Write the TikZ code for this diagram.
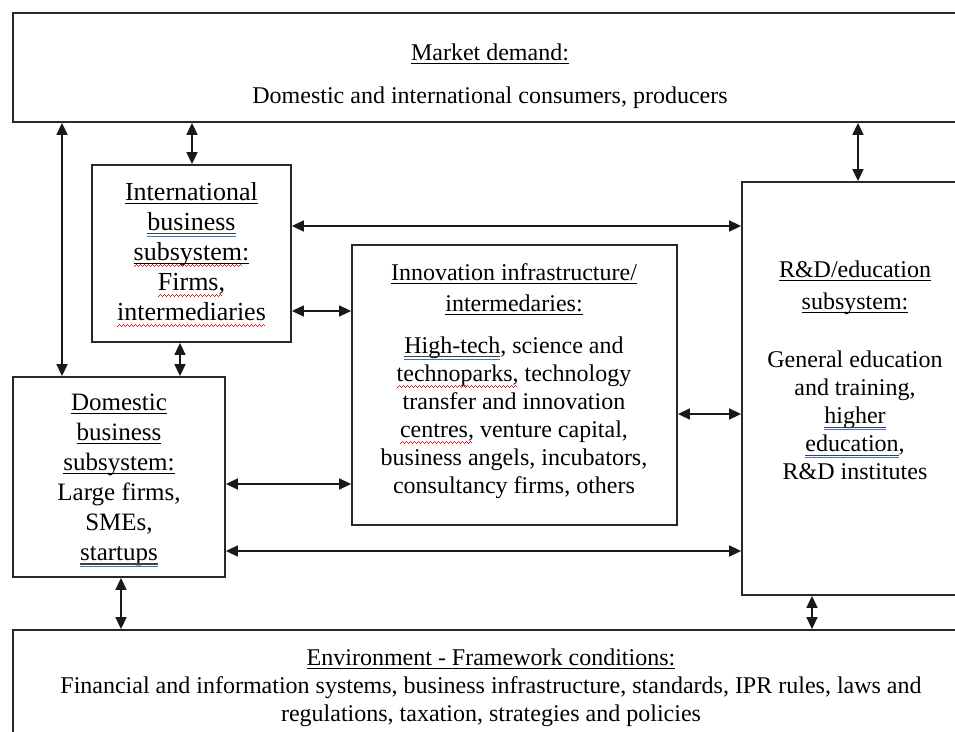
\documentclass[tikz,border=0pt]{standalone}
\usepackage{fontspec}
\setmainfont{Liberation Serif}
\usetikzlibrary{arrows.meta}
\definecolor{wordblue}{RGB}{70,110,215}
\definecolor{wordred}{RGB}{225,20,20}
\definecolor{boxline}{RGB}{40,40,40}
\newsavebox\mkbox
\newcommand\wavepat{\hbox{\rlap{\rule[-7pt]{1pt}{1pt}}\hspace{1pt}\rlap{\rule[-6pt]{1pt}{1pt}}\hspace{1pt}\rlap{\rule[-5pt]{1pt}{1pt}}\hspace{1pt}\rule[-6pt]{1pt}{1pt}}}
% title underline
\newcommand\tul[1]{\sbox\mkbox{#1}\rlap{\usebox\mkbox}\rule[-3.5pt]{\wd\mkbox}{1.1pt}}
% grammar mark: dark line + blue line
\newcommand\bdu[1]{\sbox\mkbox{#1}\rlap{\usebox\mkbox}\rlap{\textcolor{black!75}{\rule[-3.8pt]{\wd\mkbox}{1.1pt}}}\textcolor{wordblue}{\rule[-6.6pt]{\wd\mkbox}{1.1pt}}}
% spelling mark: red wave
\newcommand\rwave[1]{\sbox\mkbox{#1}\rlap{\usebox\mkbox}\textcolor{wordred}{\hbox to \wd\mkbox{\leaders\wavepat\hfill}}}
% title underline + red wave
\newcommand\rwul[1]{\sbox\mkbox{#1}\rlap{\usebox\mkbox}\rlap{\rule[-3.5pt]{\wd\mkbox}{1.1pt}}\textcolor{wordred}{\hbox to \wd\mkbox{\leaders\wavepat\hfill}}}
\tikzset{
  box/.style={draw=boxline, line width=1.8pt, rectangle, inner sep=0pt, fill=white},
  txt/.style={align=center, inner sep=0pt, anchor=north, font=\fontsize{24}{28}\selectfont, text=black},
  dbl/.style={{Triangle[length=12pt,width=11pt]}-{Triangle[length=12pt,width=11pt]}, line width=1.6pt, black!90},
}
\begin{document}
\begin{tikzpicture}[x=1pt,y=-1pt]
\useasboundingbox (0,0) rectangle (955,731);
\fill[white] (0,0) rectangle (955,731);
\clip (0,0) rectangle (955,731);
% boxes
\node[box, minimum width=955pt, minimum height=109pt] (mkt) at (490.5,67.5) {};
\node[box, minimum width=199pt, minimum height=177pt] (intl) at (191.5,253.5) {};
\node[box, minimum width=212pt, minimum height=200pt] (dom) at (119,477) {};
\node[box, minimum width=325pt, minimum height=280pt] (inn) at (514.5,385) {};
\node[box, minimum width=226pt, minimum height=413pt] (rd) at (855,388.5) {};
\node[box, minimum width=955pt, minimum height=130pt] (env) at (490.5,695) {};
% texts
\node[txt] (mktt) at (490,44) {\tul{Market demand:}\\[15pt] Domestic and international consumers, producers};
\node[txt, font=\fontsize{26}{30}\selectfont] (intlt) at (191.5,182) {\tul{International}\\ \bdu{business}\\ \rwul{subsystem}\tul{:}\\ \rwave{Firms,}\\ \rwave{intermediaries}};
\node[txt, font=\fontsize{25}{30}\selectfont] (domt) at (119,394) {\tul{Domestic}\\ \tul{business}\\ \tul{subsystem:}\\ Large firms,\\ SMEs,\\ \bdu{startups}};
\node[txt] (innt) at (514,263) {\tul{Innovation infrastructure/}\\[3pt] \tul{intermedaries:}\\[14pt] \bdu{High-tech}, science and\\ \rwave{technoparks,} technology\\ transfer and innovation\\ \rwave{centres,} venture capital,\\ business angels, incubators,\\ consultancy firms, others};
\node[txt] (rdt) at (855,261) {\tul{R\&D/education}\\[4pt] \tul{subsystem:}\\[30pt] General education\\ and training,\\ \bdu{higher}\\ \bdu{education},\\ R\&D institutes};
\node[txt] (envt) at (491,649) {\tul{Environment - Framework conditions:}\\ Financial and information systems, business infrastructure, standards, IPR rules, laws and\\ regulations, taxation, strategies and policies};
% connectors
\draw[dbl] (62,0 |- mkt.south) -- (62,0 |- dom.north);
\draw[dbl] (192,0 |- mkt.south) -- (192,0 |- intl.north);
\draw[dbl] (858,0 |- mkt.south) -- (858,0 |- rd.north);
\draw[dbl] (180,0 |- intl.south) -- (180,0 |- dom.north);
\draw[dbl] (intl.east |- 0,226) -- (rd.west |- 0,226);
\draw[dbl] (intl.east |- 0,311) -- (inn.west |- 0,311);
\draw[dbl] (dom.east |- 0,484) -- (inn.west |- 0,484);
\draw[dbl] (inn.east |- 0,414) -- (rd.west |- 0,414);
\draw[dbl] (dom.east |- 0,551) -- (rd.west |- 0,551);
\draw[dbl] (121,0 |- dom.south) -- (121,0 |- env.north);
\draw[dbl] (812,0 |- rd.south) -- (812,0 |- env.north);
\end{tikzpicture}
\end{document}
